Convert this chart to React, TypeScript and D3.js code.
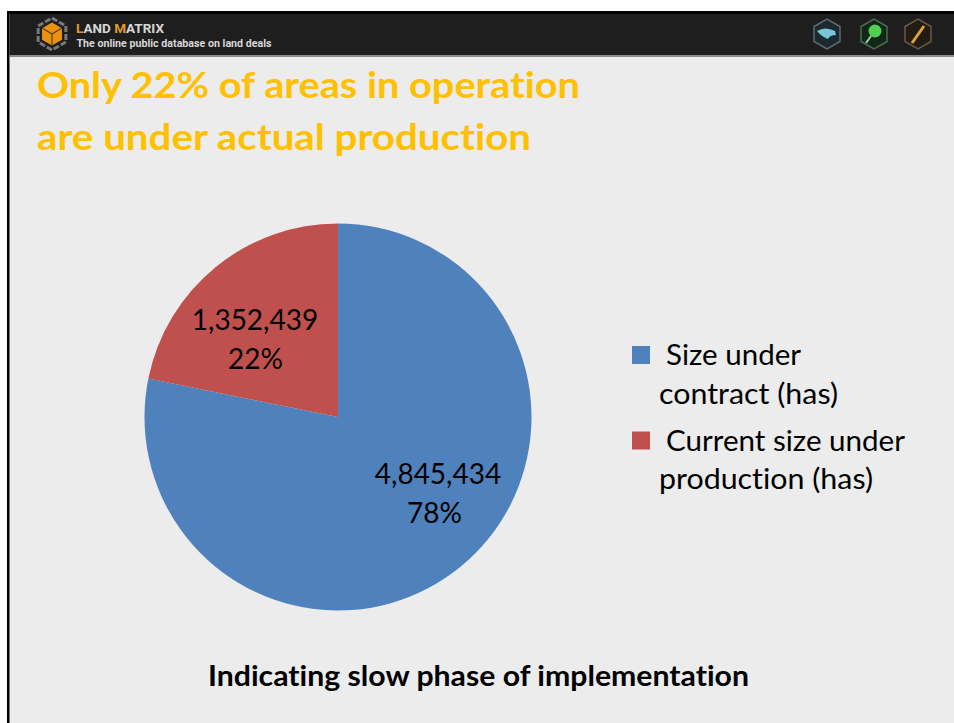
import React from "react";
import * as d3 from "d3";

const categories = ["Size under contract (has)", "Current size under production (has)"];
const values = [4845434, 1352439];
const valueLabels = ["4,845,434", "1,352,439"];
const percentLabels = ["78%", "22%"];
const colors = ["#4f81bd", "#c0504d"];
const legendLines = [["Size under", "contract (has)"], ["Current size under", "production (has)"]];
const legendWidths = [[135, 179], [239, 214]];
const titleLines = ["Only 22% of areas in operation", "are under actual production"];
const titleWidths = [543, 494];
const footer = "Indicating slow phase of implementation";

const font = "Lato, Carlito, 'Open Sans', sans-serif";
const noLig: React.CSSProperties = { fontVariantLigatures: "none" };
const cx = 338, cy = 417, radius = 193.5;
const valuePos = [[438, 484], [255, 330]];
const percentPos = [[434.5, 523], [255.5, 369]];
const hexPath = (x: number, y: number, r: number) =>
  d3.range(6).map(i => {
    const a = Math.PI / 3 * i + Math.PI / 6;
    return `${i ? "L" : "M"}${x + r * Math.cos(a)},${y + r * Math.sin(a)}`;
  }).join("") + "Z";

export default function App() {
  const pie = d3.pie<number>().sort(null)(values);
  const arc = d3.arc<d3.PieArcDatum<number>>().innerRadius(0).outerRadius(radius);
  return (
    <svg width={954} height={723} style={{ position: "fixed", left: 0, top: 0, background: "#fff" }}>
      <rect x={8} y={11} width={946} height={712} fill="#ececec" />
      <rect x={7} y={11} width={2.5} height={712} fill="#000" />
      <rect x={9.5} y={14} width={945} height={42} fill="#1e1e1e" />
      <rect x={7} y={11} width={947} height={3} fill="#000" />
      <rect x={9.5} y={55} width={945} height={2} fill="#8a8a8a" />

      {/* header logo */}
      <path d={hexPath(52, 34, 16)} fill="none" stroke="#77787a" strokeWidth={3} strokeDasharray="6 2" />
      <path d={hexPath(52, 34, 11.5)} fill="#e8930f" />
      <path d="M52,34 L42,28 M52,34 L62,28 M52,34 L52,45.5" stroke="#5b3a08" strokeWidth={1.2} />
      <text x={76} y={33} fontFamily="'Roboto', sans-serif" fontSize={13} fontWeight={700} fill="#d8d8d8" textLength={88} lengthAdjust="spacingAndGlyphs">
        <tspan fill="#e09a30">L</tspan>AND <tspan fill="#e09a30">M</tspan>ATRIX
      </text>
      <text x={76.5} y={47} fontFamily="'Roboto', sans-serif" fontSize={10} fontWeight={700} fill="#d8d8d8" textLength={195} lengthAdjust="spacingAndGlyphs">The online public database on land deals</text>

      {/* header icons */}
      <path d={hexPath(827, 34, 15)} fill="#1c2a30" stroke="#5f6b70" strokeWidth={1.5} />
      <path d="M817,31 Q825,26 835,31 L836,35 Q830,35 828,39 Q822,37 817,31Z" fill="#77c6d8" />
      <path d={hexPath(874, 34, 15)} fill="#13261a" stroke="#4f6b52" strokeWidth={1.5} />
      <circle cx={875} cy={31} r={6.5} fill="#4fd04f" />
      <line x1={871} y1={36} x2={866} y2={43} stroke="#9ccf9c" strokeWidth={2} />
      <path d={hexPath(918, 34, 15)} fill="#231c14" stroke="#6b5a44" strokeWidth={1.5} />
      <line x1={912} y1={43} x2={924} y2={26} stroke="#e0a040" strokeWidth={3} />

      {/* title */}
      {titleLines.map((t, i) => (
        <text key={t} x={37} y={98 + i * 52} fontFamily={font} fontSize={36.5} fontWeight={700} fill="#ffc000"
          textLength={titleWidths[i]} lengthAdjust="spacingAndGlyphs" style={noLig}>{t}</text>
      ))}

      {/* pie */}
      <g transform={`translate(${cx},${cy})`}>
        {pie.map((d, i) => <path key={categories[i]} d={arc(d) ?? ""} fill={colors[i]} />)}
      </g>
      {pie.map((d, i) => (
        <g key={i} fontFamily={font} fontSize={28} fill="#000" textAnchor="middle">
          <text x={valuePos[i][0]} y={valuePos[i][1]}>{valueLabels[i]}</text>
          <text x={percentPos[i][0]} y={percentPos[i][1]}>{percentLabels[i]}</text>
        </g>
      ))}

      {/* legend */}
      {legendLines.map((lines, i) => (
        <g key={i} fontFamily={font} fontSize={28} fill="#000" style={noLig}>
          <rect x={632} y={346 + i * 85.5} width={18} height={18} fill={colors[i]} />
          <text x={666} y={365 + i * 85.5} textLength={legendWidths[i][0]} lengthAdjust="spacingAndGlyphs">{lines[0]}</text>
          <text x={659} y={404 + i * 85} textLength={legendWidths[i][1]} lengthAdjust="spacingAndGlyphs">{lines[1]}</text>
        </g>
      ))}

      <text x={208} y={686} fontFamily={font} fontSize={28} fontWeight={700} fill="#000"
        textLength={541} lengthAdjust="spacingAndGlyphs" style={noLig}>{footer}</text>
    </svg>
  );
}
